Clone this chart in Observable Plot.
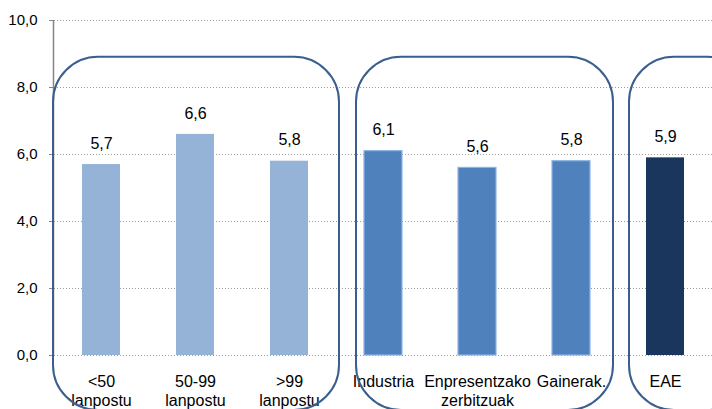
<!DOCTYPE html>
<html>
<head>
<meta charset="utf-8">
<script src="https://cdn.jsdelivr.net/npm/d3@7"></script>
<script src="https://cdn.jsdelivr.net/npm/@observablehq/plot@0.6"></script>
<style>
  html, body { margin: 0; padding: 0; background: #fff; }
  svg g[aria-label^="y-axis"] line, svg g[aria-label^="y-axis"] path { stroke: #868686; }
</style>
</head>
<body>
<div id="chart"></div>
<script>
// ---- data ----
const categories = ["<50\nlanpostu", "50-99\nlanpostu", ">99\nlanpostu", "Industria", "Enpresentzako\nzerbitzuak", "Gainerak.", "EAE"];
const values = [5.7, 6.6, 5.8, 6.1, 5.6, 5.8, 5.9];
const groupOf = ["size", "size", "size", "sector", "sector", "sector", "total"];
const groupNames = ["size", "sector", "total"];
const groupColors = ["#95B3D7", "#4F81BD", "#1B365D"];
const yTicks = [0, 2, 4, 6, 8, 10];

const rows = categories.map((c, i) => ({cat: c, value: values[i], group: groupOf[i]}));
const fmt = d => d.toFixed(1).replace(".", ",");

const chart = Plot.plot({
  width: 712,
  height: 409,
  marginLeft: 54,
  marginRight: 0,
  marginTop: 20,
  marginBottom: 54,
  style: {fontFamily: "'Liberation Sans', Arial, sans-serif", fontSize: "15px", color: "#000", background: "#fff", overflow: "hidden"},
  x: {domain: categories, paddingInner: 0.6, paddingOuter: 0.3, axis: null},
  y: {domain: [0, 10], ticks: yTicks, tickFormat: fmt, tickSize: 5, tickPadding: 12, label: null},
  color: {domain: groupNames, range: groupColors},
  marks: [
    Plot.ruleY(yTicks, {stroke: "#9a9a9a", strokeDasharray: "1,2", strokeWidth: 1}),
    Plot.barY(rows, {x: "cat", y: "value", fill: "group",
      stroke: d => d.group === "sector" ? "#8EB4E3" : "none", strokeWidth: 1.2}),
    Plot.text(rows, {x: "cat", y: "value", text: d => fmt(d.value), dy: -21, fill: "#000", fontSize: 16}),
    Plot.text(rows, {x: "cat", y: () => 0, text: "cat", lineAnchor: "top", dy: 18, lineHeight: 1.2, fill: "#000", fontSize: 16})
  ]
});
document.getElementById("chart").appendChild(chart);

// axis line and group frames, positioned from the scales
const xs = chart.scale("x");
const ys = chart.scale("y");
const svg = d3.select(chart);
svg.append("line")
  .attr("x1", 53.5).attr("x2", 53.5)
  .attr("y1", ys.apply(0)).attr("y2", ys.apply(10))
  .attr("stroke", "#868686").attr("stroke-width", 1.5);

const step = xs.step ?? (xs.bandwidth / 0.4);
const bw = xs.bandwidth;
const outer = (step - bw) / 2;
const insets = {size: [-1, 3], sector: [20, -5], total: [11, 40]};
groupNames.forEach(g => {
  const idx = groupOf.map((v, i) => v === g ? i : -1).filter(i => i >= 0);
  const first = categories[idx[0]], last = categories[idx[idx.length - 1]];
  const x1 = xs.apply(first) - outer + insets[g][0];
  const x2 = xs.apply(last) + bw + outer + insets[g][1];
  const y1 = ys.apply(8.9);
  const y2 = ys.apply(0) + 55;
  svg.append("rect")
    .attr("x", x1).attr("y", y1)
    .attr("width", x2 - x1).attr("height", y2 - y1)
    .attr("rx", 45).attr("ry", 45)
    .attr("fill", "none").attr("stroke", "#3A5F8E").attr("stroke-width", 2);
});
</script>
</body>
</html>
